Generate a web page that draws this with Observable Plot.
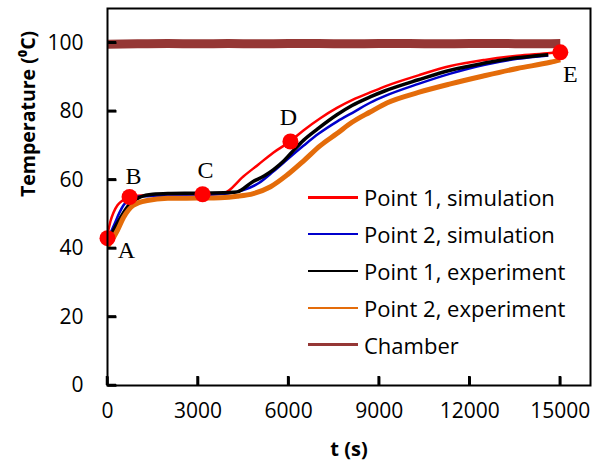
<!DOCTYPE html>
<html><head><meta charset="utf-8">
<script src="https://cdn.jsdelivr.net/npm/d3@7"></script>
<script src="https://cdn.jsdelivr.net/npm/@observablehq/plot@0.6"></script>
<style>
body{margin:0;background:#fff;}
#wrap{position:relative;width:601px;height:468px;font-family:"Open Sans",sans-serif;}
#legend{position:absolute;left:308px;top:179px;font-size:22px;color:#000;}
.row{height:36.8px;display:flex;align-items:center;white-space:nowrap;}
.sw{width:50px;height:2.5px;margin-right:6px;}
</style></head><body><div id="wrap"><div id="legend"></div></div>
<script>
// ---- data ----
const xTicks = [0, 3000, 6000, 9000, 12000, 15000];
const yTicks = [0, 20, 40, 60, 80, 100];
const seriesNames = ["Point 1, simulation", "Point 2, simulation", "Point 1, experiment", "Point 2, experiment", "Chamber"];
const seriesColors = ["#ff0000", "#0000cc", "#000000", "#e46c0a", "#953735"];

const p1SimT = [0,100,200,330,500,730,1000,1500,2000,3000,3840,4500,5000,5500,6060,6500,7050,7600,8150,8700,9200,10300,11360,12500,13570,14670,15000];
const p1SimV = [44,48,50.5,52.6,54,55,55.4,55.6,55.6,55.7,56.1,61,64.5,68,71.3,74.5,78,81,83.5,85.5,87.3,90.5,93.2,95,96.2,97,97.3];

const p2SimT = [0,100,250,400,530,860,1200,2000,3000,4000,4500,5000,5500,6000,6500,7000,7600,8200,8700,9200,10300,11360,12500,13570,14600];
const p2SimV = [42.5,44.5,47.5,50.5,52.6,54.7,55.2,55.4,55.5,56,57,59,62.5,66.3,70,73.5,77,80,82.5,84.5,88,91,93.6,95.3,96.3];

const p1ExpT = [0,200,430,760,1090,1500,2000,3000,4000,4300,4800,5200,5500,5800,6100,6500,6950,7600,8100,8700,9200,10300,11360,12450,13570,14600];
const p1ExpV = [42,45.3,49,53.2,55,55.8,56,56.1,56.3,56.5,59.4,61.2,63,65.2,68,71.6,74.8,79,81.7,84.2,86,89.2,92,94,95.6,96.5];

const p2ExpT = [0,100,330,530,860,1320,2000,3000,3740,4300,4830,5400,5960,6490,7050,7600,8100,8700,9270,10300,11360,12450,13570,14670,15000];
const p2ExpV = [40.5,41.8,45.3,49,52.6,54,54.6,54.7,54.8,55.2,56,58,61.5,65.5,70,73.5,76.8,79.8,82.5,85.5,88,90.3,92.5,94.3,95];

const chamberT = [0,1000,2000,3000,4000,5000,6000,7000,8000,9000,10000,11000,12000,13000,14000,15000];
const chamberV = [99.6,99.7,99.8,99.7,99.8,99.7,99.8,99.8,99.7,99.8,99.8,99.7,99.8,99.8,99.7,99.8];

const markerT = [0, 730, 3150, 6060, 15000];
const markerV = [43, 55, 55.8, 71.2, 97.2];
const markerLabels = ["A", "B", "C", "D", "E"];

const xLabel = "t (s)";
const yLabel = "Temperature (\u2070C)";

// ---- layout ----
const W = 601, H = 468, mL = 107, mR = 11, mT = 8, mB = 83, tickLen = 9;
const xDomain = [0, 16000], yDomain = [0, 110];
const plotW = W - mL - mR, plotH = H - mT - mB;
const xTickSpan = (xDomain[1] - xDomain[0]) * tickLen / plotW;
const yTickSpan = (yDomain[1] - yDomain[0]) * tickLen / plotH;

// ---- build ----
const toRows = (T, V) => T.map((t, i) => ({t, v: V[i]}));
const series = [
  {rows: toRows(p1SimT, p1SimV), w: 2.5},
  {rows: toRows(p2SimT, p2SimV), w: 2.5},
  {rows: toRows(p1ExpT, p1ExpV), w: 3.5},
  {rows: toRows(p2ExpT, p2ExpV), w: 5},
  {rows: toRows(chamberT, chamberV), w: 9}
];
const markers = markerT.map((t, i) => ({t, v: markerV[i], label: markerLabels[i]}));
const labelOffset = {A: [19, 12], B: [4, -21], C: [3, -24], D: [-2, -24], E: [10, 22]};

const lineMarks = series.map((s, i) => Plot.line(s.rows, {x: "t", y: "v", stroke: seriesColors[i], strokeWidth: s.w, curve: "monotone-x", strokeLinecap: "butt"}));
const letterMarks = markers.map(m => Plot.text([m], {x: "t", y: "v", text: "label",
  fontFamily: "'Liberation Serif', 'Times New Roman', serif", fontSize: 24,
  dx: labelOffset[m.label][0], dy: labelOffset[m.label][1]}));

const chart = Plot.plot({
  width: W, height: H,
  marginLeft: mL, marginRight: mR, marginTop: mT, marginBottom: mB,
  x: {domain: xDomain},
  y: {domain: yDomain},
  style: {fontFamily: "'Open Sans', sans-serif", fontSize: "21px", color: "#000", background: "#fff"},
  marks: [
    ...lineMarks,
    Plot.dot(markers, {x: "t", y: "v", r: 8, fill: "#ff0000", stroke: null}),
    ...letterMarks,
    Plot.frame({stroke: "#000", strokeWidth: 2}),
    // inward tick marks
    Plot.link(xTicks, {x1: d => d, x2: d => d, y1: yDomain[0], y2: yDomain[0] + yTickSpan, stroke: "#000", strokeWidth: 2.5}),
    Plot.link(yTicks, {y1: d => d, y2: d => d, x1: xDomain[0], x2: xDomain[0] + xTickSpan, stroke: "#000", strokeWidth: 2.5}),
    // tick labels
    Plot.axisX({ticks: xTicks, tickSize: 0, tickPadding: 18, tickFormat: d => `${d}`, label: null, fontSize: 21}),
    Plot.axisY({ticks: yTicks, tickSize: 0, tickPadding: 24, tickFormat: d => `${d}`, label: null, fontSize: 21}),
    Plot.text([xLabel], {text: d => d, frameAnchor: "bottom", dy: 70, fontWeight: "bold", fontSize: 20}),
    Plot.text([yLabel], {text: d => d, frameAnchor: "left", dx: -79, rotate: -90, fontWeight: "bold", fontSize: 19.5})
  ]
});
const wrap = document.getElementById("wrap");
wrap.prepend(chart);

// extra inward ticks drawn through Plot's own scales (safety layer)
const sx = chart.scale("x"), sy = chart.scale("y");
const svg = d3.select(chart.tagName.toLowerCase() === "svg" ? chart : chart.querySelector("svg"));
const g = svg.append("g").attr("stroke", "#000").attr("stroke-width", 2.5);
xTicks.forEach(t => {
  const px = sx.apply(t), py = sy.apply(yDomain[0]);
  g.append("line").attr("x1", px).attr("x2", px).attr("y1", py).attr("y2", py - tickLen);
});
yTicks.forEach(v => {
  const px = sx.apply(xDomain[0]), py = sy.apply(v);
  g.append("line").attr("x1", px).attr("x2", px + tickLen).attr("y1", py).attr("y2", py);
});

const legend = document.getElementById("legend");
seriesNames.forEach((name, i) => {
  const row = document.createElement("div");
  row.className = "row";
  const sw = document.createElement("div");
  sw.className = "sw";
  sw.style.background = seriesColors[i];
  const label = document.createElement("span");
  label.textContent = name;
  row.append(sw, label);
  legend.append(row);
});
</script>
</body></html>
